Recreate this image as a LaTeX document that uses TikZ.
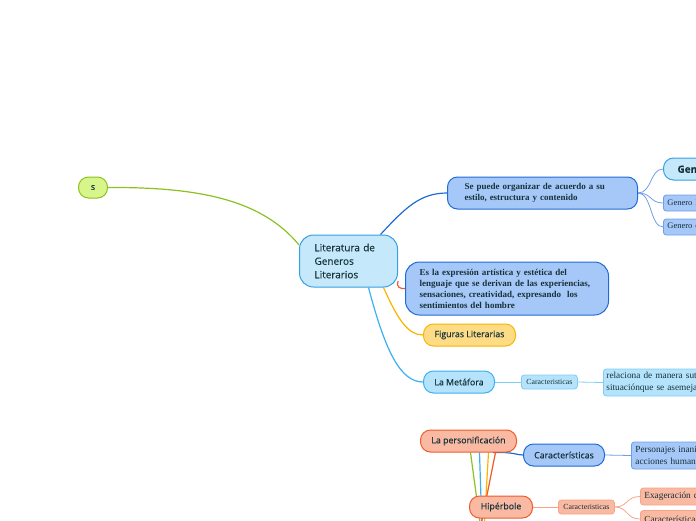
\documentclass[tikz,border=0pt]{standalone}
\usepackage{fontspec}
\setmainfont{Liberation Serif}
\newfontfamily\uisans[FakeBold=0.3]{Open Sans}
\usetikzlibrary{backgrounds}
\definecolor{txt}{HTML}{17323A}
\definecolor{grn}{HTML}{8CC21F}
\definecolor{grnfill}{HTML}{D7F58B}
\definecolor{cfill}{HTML}{C5E9FB}
\definecolor{cline}{HTML}{36A0E3}
\definecolor{bfill}{HTML}{A6C8F8}
\definecolor{bline}{HTML}{1F6BD6}
\definecolor{bthin}{HTML}{6E9EE8}
\definecolor{yfill}{HTML}{FEDC86}
\definecolor{yline}{HTML}{F7B500}
\definecolor{mfill}{HTML}{B4E3FB}
\definecolor{mline}{HTML}{3CB0F2}
\definecolor{sfill}{HTML}{F9B9A2}
\definecolor{sline}{HTML}{EF5B2B}
\definecolor{sthin}{HTML}{F7A386}
\definecolor{mthin}{HTML}{7FCDF5}
\begin{document}
\begin{tikzpicture}[x=1pt,y=-1pt,
  box/.style={draw,line width=1pt,text=txt,inner sep=0pt,anchor=west},
  pill/.style={box,rounded corners=10pt},
  small/.style={box,rounded corners=3pt,line width=0.8pt},
  sansT/.style={font=\uisans\fontsize{10}{13.5}\selectfont},
  sansS/.style={font=\uisans\fontsize{8.8}{10}\selectfont},
  serifB/.style={font=\bfseries\fontsize{9}{11}\selectfont},
  serifS/.style={font=\fontsize{7.8}{10}\selectfont},
  serifM/.style={font=\fontsize{9.3}{11.5}\selectfont},
  con/.style={line width=1.2pt},
  thin/.style={line width=0.8pt}]
\useasboundingbox (0,0) rectangle (696,520);
\clip (0,0) rectangle (696,520);

\node[pill,fill=grnfill,draw=grn,minimum width=29pt,minimum height=21pt,sansS] (s) at (78,187.5) {s};
\node[box,rounded corners=14pt,fill=cfill,draw=cline,minimum width=98pt,minimum height=52pt,sansT,text width=68pt,align=left] (lit) at (299,261) {Literatura de\\Generos\\Literarios};
\node[pill,fill=bfill,draw=bline,minimum width=190pt,minimum height=32pt,serifB,text width=156pt,align=left] (org) at (447,193) {Se puede organizar de acuerdo a su\\estilo, estructura y contenido};
\node[pill,fill=cfill,draw=cline,minimum width=140pt,minimum height=22pt,font=\uisans\bfseries\fontsize{10}{12}\selectfont,text width=112pt,align=left] (gen) at (663,169) {Generos Literarios};
\node[small,fill=bfill,draw=bthin,minimum width=70pt,minimum height=16pt,font=\fontsize{8.5}{10}\selectfont,text width=62pt,align=left] (g1) at (663,203) {Genero lirico};
\node[small,fill=bfill,draw=bthin,minimum width=70pt,minimum height=16pt,font=\fontsize{8.5}{10}\selectfont,text width=62pt,align=left] (g2) at (663,227) {Genero epico};
\node[box,rounded corners=14pt,fill=bfill,draw=bline,minimum width=203pt,minimum height=53pt,serifB,text width=175pt,align=left] (expr) at (405,288.5) {Es la expresión artística y estética del\\lenguaje que se derivan de las experiencias,\\sensaciones, creatividad, expresando\ \ los\\sentimientos del hombre};
\node[pill,fill=yfill,draw=yline,minimum width=92pt,minimum height=22pt,sansS] (fig) at (423,335) {Figuras Literarias};
\node[pill,fill=mfill,draw=mline,minimum width=71pt,minimum height=22pt,sansS] (met) at (423,382) {La Metáfora};
\node[small,fill=mfill,draw=mthin,minimum width=56pt,minimum height=14pt,serifS] (car1) at (521,382) {Caracteristicas};
\node[small,fill=mfill,draw=mthin,minimum width=170pt,minimum height=27pt,serifM,text width=164pt,align=left] (rel) at (603,382.5) {relaciona de manera sutil una\\situaciónque se asemeja a otra};
\node[pill,fill=sfill,draw=sline,minimum width=96pt,minimum height=22pt,sansS] (per) at (420,441) {La personificación};
\node[pill,fill=bfill,draw=bline,minimum width=81pt,minimum height=22pt,sansS] (car2) at (523,455) {Características};
\node[small,fill=bfill,draw=bthin,minimum width=150pt,minimum height=27pt,serifM,text width=142pt,align=left] (pers) at (631,455.5) {Personajes inanimados con\\acciones humanas};
\node[pill,fill=sfill,draw=sline,minimum width=63pt,minimum height=22pt,sansS] (hip) at (469,507) {Hipérbole};
\node[small,fill=sfill,draw=sthin,minimum width=56pt,minimum height=14pt,serifS] (car3) at (558,507) {Caracteristicas};
\node[small,fill=sfill,draw=sthin,minimum width=150pt,minimum height=17pt,serifM,text width=142pt,align=left] (exa) at (640,496.5) {Exageración de la realidad};
\node[small,fill=sfill,draw=sthin,minimum width=150pt,minimum height=17pt,serifM,text width=142pt,align=left] (car4) at (640,519) {Características};
\coordinate (b1) at (481,530);
\coordinate (b2) at (482,530);
\coordinate (b3) at (484,530);
\coordinate (b4) at (477,545);

\begin{scope}[on background layer]
\draw[con,grn] (s.east) .. controls (200,187) and (262,200) .. (lit.162);
\draw[con,bline] ([xshift=32pt]lit.north) .. controls (405,208) and (420,193) .. (org.west);
\draw[con,sline] (lit.-22) .. controls (396,287) and (400,289) .. (expr.west);
\draw[con,yline] ([xshift=35pt]lit.south) .. controls (398,320) and (408,335) .. (fig.west);
\draw[con,mline] ([xshift=20pt]lit.south) .. controls (385,350) and (400,382) .. (met.west);
\draw[thin,mthin] (met.east) -- (car1.west);
\draw[thin,mthin] (car1.east) -- (rel.west);
\draw[thin,bthin] (org.east) .. controls (652,193) and (650,169) .. (gen.west);
\draw[thin,bthin] (org.east) .. controls (652,193) and (650,203) .. (g1.west);
\draw[thin,bthin] (org.east) .. controls (652,193) and (650,227) .. (g2.west);
\draw[con,bline] (per.-25) .. controls (515,452) and (516,455) .. (car2.west);
\draw[thin,bthin] (car2.east) -- (pers.west);
\draw[thin,sthin] (hip.east) -- (car3.west);
\draw[thin,sthin] (car3.east) .. controls (628,507) and (626,496.5) .. (exa.west);
\draw[thin,sthin] (car3.east) .. controls (628,507) and (626,519) .. (car4.west);
\draw[con,grn] ([xshift=2pt]per.south) -- (b1);
\draw[con,mline] ([xshift=11pt]per.south) -- (b2);
\draw[con,yline] ([xshift=20pt]per.south) -- (b3);
\draw[con,sline] ([xshift=27pt]per.south) -- (b4);
\end{scope}
\end{tikzpicture}
\end{document}
